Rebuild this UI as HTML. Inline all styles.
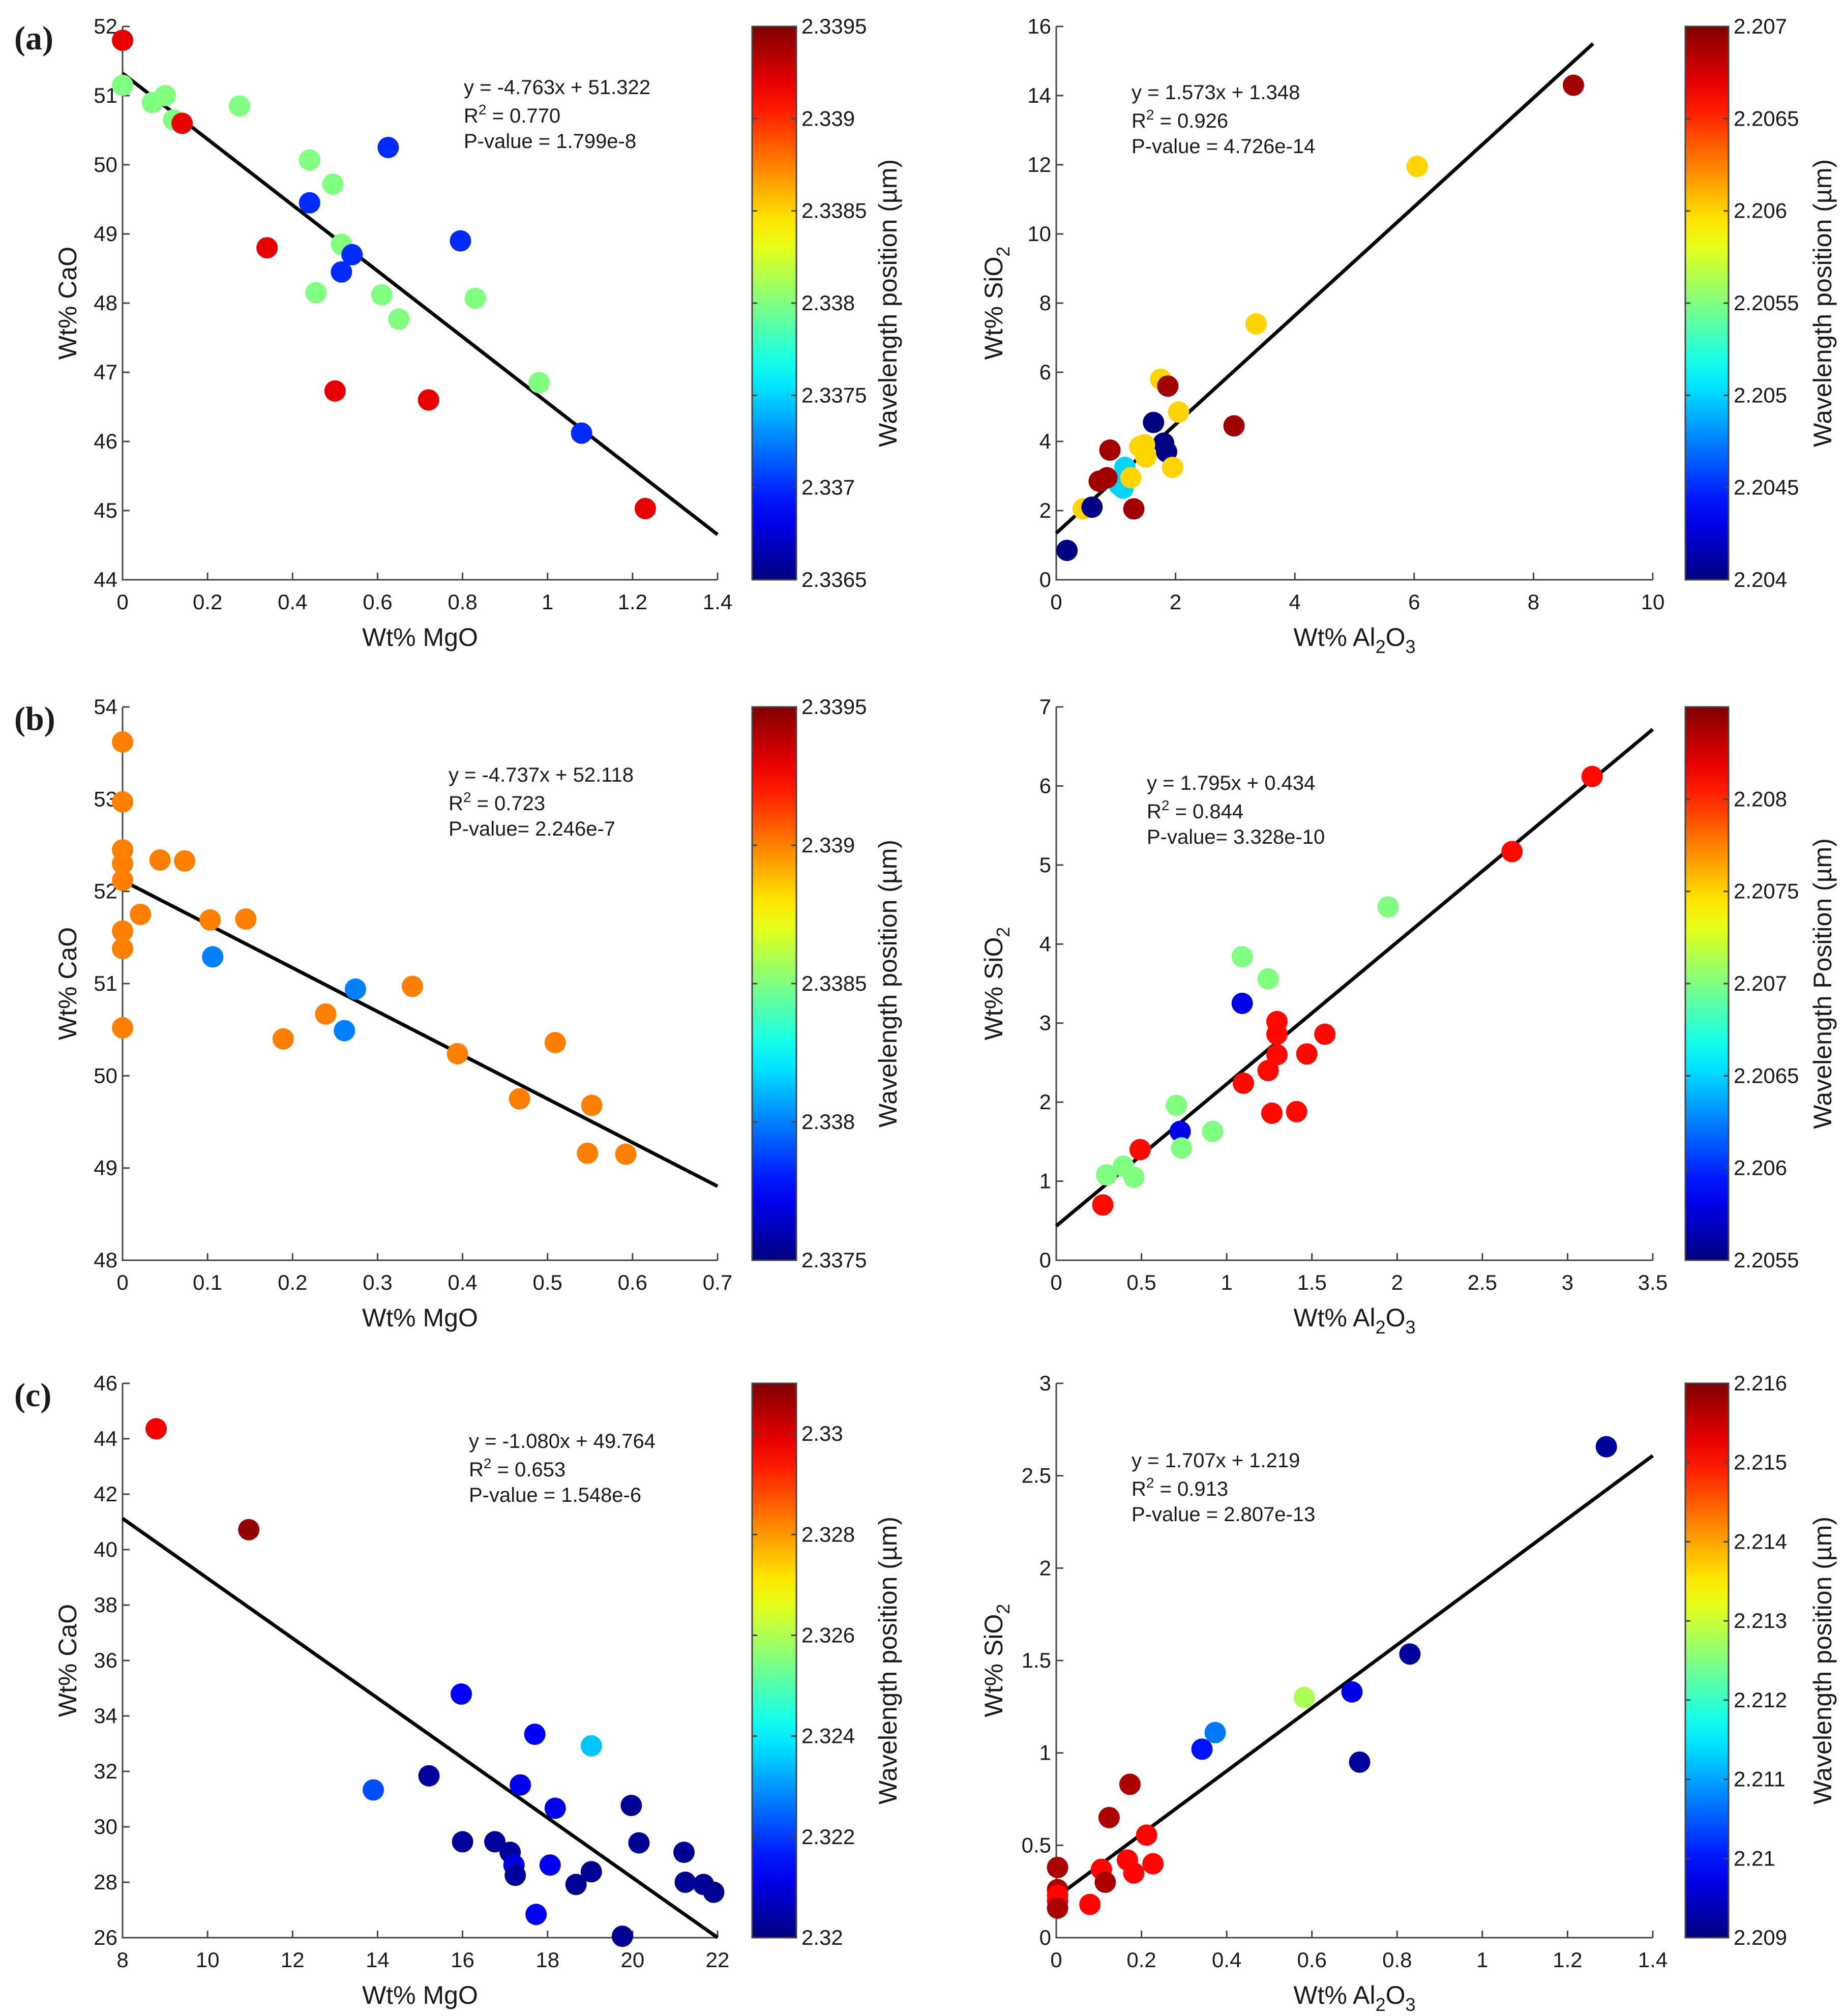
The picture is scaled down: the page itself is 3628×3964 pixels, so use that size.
<!DOCTYPE html>
<html><head><meta charset="utf-8"><style>
html,body{margin:0;padding:0;background:#fff}
svg{display:block}
text{font-family:"Liberation Sans",Arial,sans-serif;fill:#1a1a1a}
</style></head><body>
<svg id="fig" width="3628" height="3964" viewBox="0 0 3628 3964" xmlns="http://www.w3.org/2000/svg">
<defs id="defs"></defs>
</svg>
<script>
// ---- Panel (a) left: MgO vs CaO ----
const aL_x=[0,0,0.1,0.07,0.12,0.14,0.275,0.44,0.625,0.495,0.44,0.795,0.34,0.515,0.54,0.515,0.455,0.61,0.65,0.83,0.98,0.5,0.72,1.08,1.23];
const aL_y=[51.8,51.15,51.0,50.9,50.65,50.6,50.85,50.07,50.25,49.72,49.45,48.9,48.8,48.85,48.7,48.45,48.15,48.12,47.77,48.07,46.85,46.73,46.6,46.12,45.03];
const aL_c=[2.3392,2.3380,2.3380,2.3380,2.3380,2.3392,2.3380,2.3380,2.3370,2.3380,2.3370,2.3370,2.3392,2.3380,2.3370,2.3370,2.3380,2.3380,2.3380,2.3380,2.3380,2.3392,2.3392,2.3370,2.3392];
const aL_xt=[0,0.2,0.4,0.6,0.8,1,1.2,1.4];
const aL_yt=[44,45,46,47,48,49,50,51,52];
const aL_ct=[2.3365,2.337,2.3375,2.338,2.3385,2.339,2.3395];
const aL_fit=[-4.763,51.322];
// ---- Panel (a) right: Al2O3 vs SiO2 ----
const aR_x=[8.67,6.05,3.35,1.75,1.87,2.05,2.98,1.63,1.8,1.85,1.4,1.48,1.5,0.9,1.95,1.15,1.05,1.12,1.25,0.85,0.72,0.45,0.6,1.3,0.18];
const aR_y=[14.3,11.95,7.4,5.8,5.6,4.85,4.45,4.55,3.95,3.7,3.85,3.9,3.55,3.75,3.25,3.25,2.75,2.65,2.95,2.95,2.85,2.05,2.1,2.05,0.85];
const aR_c=[2.2069,2.2060,2.2060,2.2060,2.2069,2.2060,2.2069,2.2040,2.2040,2.2040,2.2060,2.2060,2.2060,2.2069,2.2060,2.2050,2.2050,2.2050,2.2060,2.2069,2.2069,2.2060,2.2040,2.2069,2.2040];
const aR_xt=[0,2,4,6,8,10];
const aR_yt=[0,2,4,6,8,10,12,14,16];
const aR_ct=[2.204,2.2045,2.205,2.2055,2.206,2.2065,2.207];
const aR_fit=[1.573,1.348];
// ---- Panel (b) left ----
const bL_x=[0,0,0,0,0,0,0,0,0.021,0.044,0.073,0.103,0.145,0.106,0.189,0.239,0.261,0.274,0.341,0.394,0.467,0.509,0.552,0.547,0.592];
const bL_y=[53.62,52.97,52.45,52.3,52.12,51.57,51.38,50.52,51.75,52.34,52.33,51.69,51.7,51.29,50.4,50.67,50.49,50.94,50.97,50.24,49.75,50.36,49.68,49.16,49.15];
const bL_c=[2.339,2.339,2.339,2.339,2.339,2.339,2.339,2.339,2.339,2.339,2.339,2.339,2.339,2.3380,2.339,2.339,2.3380,2.3380,2.339,2.339,2.339,2.339,2.339,2.339,2.339];
const bL_xt=[0,0.1,0.2,0.3,0.4,0.5,0.6,0.7];
const bL_yt=[48,49,50,51,52,53,54];
const bL_ct=[2.3375,2.338,2.3385,2.339,2.3395];
const bL_fit=[-4.737,52.118];
// ---- Panel (b) right ----
const bR_x=[3.144,2.674,1.947,1.091,1.243,1.091,1.295,1.295,1.576,1.295,1.47,1.243,1.098,1.265,1.41,0.705,0.917,0.727,0.735,0.492,0.394,0.455,0.295,0.273];
const bR_y=[6.12,5.17,4.47,3.84,3.56,3.25,3.02,2.86,2.86,2.6,2.61,2.40,2.24,1.86,1.88,1.96,1.63,1.63,1.42,1.40,1.19,1.05,1.08,0.70];
const bR_c=[2.2081,2.2081,2.2070,2.2070,2.2070,2.2058,2.2081,2.2081,2.2081,2.2081,2.2081,2.2081,2.2081,2.2081,2.2081,2.2070,2.2070,2.2058,2.2070,2.2081,2.2070,2.2070,2.2070,2.2081];
const bR_xt=[0,0.5,1,1.5,2,2.5,3,3.5];
const bR_yt=[0,1,2,3,4,5,6,7];
const bR_ct=[2.2055,2.206,2.2065,2.207,2.2075,2.208];
const bR_fit=[1.795,0.434];
// ---- Panel (c) left ----
const cL_x=[8.79,10.97,15.97,19.03,17.7,13.9,15.21,17.36,18.18,19.97,16.0,16.76,17.12,17.21,18.06,20.15,21.21,19.03,18.67,17.24,21.24,21.67,21.91,17.73,19.76];
const cL_y=[44.36,40.72,34.79,32.92,33.34,31.33,31.84,31.51,30.67,30.77,29.46,29.46,29.08,28.62,28.62,29.42,29.08,28.38,27.92,28.25,28.0,27.92,27.64,26.84,26.05];
const cL_c=[2.3297,2.3308,2.3213,2.3235,2.3213,2.3222,2.3203,2.3212,2.3212,2.3202,2.3203,2.3203,2.3203,2.3210,2.3212,2.3202,2.3202,2.3202,2.3202,2.3203,2.3202,2.3202,2.3202,2.3212,2.3202];
const cL_xt=[8,10,12,14,16,18,20,22];
const cL_yt=[26,28,30,32,34,36,38,40,42,44,46];
const cL_ct=[2.32,2.322,2.324,2.326,2.328,2.33];
const cL_fit=[-1.080,49.764];
// ---- Panel (c) right ----
const cR_x=[1.291,0.83,0.694,0.712,0.582,0.373,0.342,0.173,0.124,0.212,0.167,0.182,0.227,0.106,0.115,0.079,0.003,0.003,0.003,0.003,0.003];
const cR_y=[2.657,1.535,1.33,0.95,1.30,1.11,1.02,0.83,0.65,0.555,0.42,0.35,0.40,0.37,0.30,0.18,0.38,0.26,0.23,0.20,0.16];
const cR_c=[2.2092,2.2092,2.2097,2.2092,2.2128,2.2107,2.2100,2.2157,2.2157,2.2151,2.2151,2.2151,2.2151,2.2151,2.2157,2.2151,2.2157,2.2157,2.2151,2.2151,2.2157];
const cR_xt=[0,0.2,0.4,0.6,0.8,1,1.2,1.4];
const cR_yt=[0,0.5,1,1.5,2,2.5,3];
const cR_ct=[2.209,2.21,2.211,2.212,2.213,2.214,2.215,2.216];
const cR_fit=[1.707,0.219];

const NS="http://www.w3.org/2000/svg";
const svg=document.getElementById('fig');
const defs=document.getElementById('defs');
function mk(tag,attrs,parent){const e=document.createElementNS(NS,tag);for(const k in attrs)e.setAttribute(k,attrs[k]);(parent||svg).appendChild(e);return e;}
function jet(t){t=Math.max(0,Math.min(1,t));
 const f=(x)=>Math.max(0,Math.min(1,x));
 const r=f(Math.min(4*t-1.5,-4*t+4.5)),g=f(Math.min(4*t-0.5,-4*t+3.5)),b=f(Math.min(4*t+0.5,-4*t+2.5));
 return `rgb(${Math.round(r*255)},${Math.round(g*255)},${Math.round(b*255)})`;}
function fmt(v){return String(+v.toFixed(4));}

const rows=[[52,1140],[1390,2478],[2720,3810]];
const cols=[{px:[241,1411],cb:[1479,1566],yt:132,cbl:1745},{px:[2077,3250],cb:[3314,3399],yt:1953,cbl:3583}];

const panels=[
 {id:'a-left',r:0,c:0,x:aL_x,y:aL_y,col:aL_c,xt:aL_xt,yt:aL_yt,ct:aL_ct,xd:[0,1.4],yd:[44,52],cd:[2.3365,2.3395],fit:aL_fit,xl:'Wt% MgO',yl:'Wt% CaO',cl:'Wavelength position (µm)',ann:['y = -4.763x + 51.322','0.770','P-value = 1.799e-8'],ax:912,ay:185,label:'(a)'},
 {id:'a-right',r:0,c:1,x:aR_x,y:aR_y,col:aR_c,xt:aR_xt,yt:aR_yt,ct:aR_ct,xd:[0,10],yd:[0,16],cd:[2.204,2.207],fit:aR_fit,fitx:[0,9],xl:'Al2O3',yl:'SiO2',cl:'Wavelength position (µm)',ann:['y = 1.573x + 1.348','0.926','P-value = 4.726e-14'],ax:2225,ay:195},
 {id:'b-left',r:1,c:0,x:bL_x,y:bL_y,col:bL_c,xt:bL_xt,yt:bL_yt,ct:bL_ct,xd:[0,0.7],yd:[48,54],cd:[2.3375,2.3395],fit:bL_fit,xl:'Wt% MgO',yl:'Wt% CaO',cl:'Wavelength position (µm)',ann:['y = -4.737x + 52.118','0.723','P-value= 2.246e-7'],ax:882,ay:1537,label:'(b)'},
 {id:'b-right',r:1,c:1,x:bR_x,y:bR_y,col:bR_c,xt:bR_xt,yt:bR_yt,ct:bR_ct,xd:[0,3.5],yd:[0,7],cd:[2.2055,2.2085],fit:bR_fit,xl:'Al2O3',yl:'SiO2',cl:'Wavelength Position (µm)',ann:['y = 1.795x + 0.434','0.844','P-value= 3.328e-10'],ax:2255,ay:1553},
 {id:'c-left',r:2,c:0,x:cL_x,y:cL_y,col:cL_c,xt:cL_xt,yt:cL_yt,ct:cL_ct,xd:[8,22],yd:[26,46],cd:[2.32,2.331],fit:cL_fit,xl:'Wt% MgO',yl:'Wt% CaO',cl:'Wavelength position (µm)',ann:['y = -1.080x + 49.764','0.653','P-value = 1.548e-6'],ax:922,ay:2847,label:'(c)'},
 {id:'c-right',r:2,c:1,x:cR_x,y:cR_y,col:cR_c,xt:cR_xt,yt:cR_yt,ct:cR_ct,xd:[0,1.4],yd:[0,3],cd:[2.209,2.216],fit:cR_fit,xl:'Al2O3',yl:'SiO2',cl:'Wavelength position (µm)',ann:['y = 1.707x + 1.219','0.913','P-value = 2.807e-13'],ax:2225,ay:2885}
];

panels.forEach((p,pi)=>{
 const [x0,x1]=cols[p.c].px,[y0,y1]=rows[p.r];
 const sx=v=>x0+(v-p.xd[0])/(p.xd[1]-p.xd[0])*(x1-x0);
 const sy=v=>y1-(v-p.yd[0])/(p.yd[1]-p.yd[0])*(y1-y0);
 const g=mk('g',{});
 
 
 const ax=mk('path',{d:`M${x0},${y0}L${x0},${y1}L${x1},${y1}`,fill:'none',stroke:'#444','stroke-width':3},g);
 
 
 p.xt.forEach(t=>{const X=sx(t);
  mk('line',{x1:X,x2:X,y1:y1,y2:y1-14,stroke:'#444','stroke-width':3},g);
  const tx=mk('text',{x:X,y:y1+58,'font-size':42,'text-anchor':'middle'},g);tx.textContent=fmt(t);
  
  });
 p.yt.forEach(t=>{const Y=sy(t);
  mk('line',{x1:x0,x2:x0+14,y1:Y,y2:Y,stroke:'#444','stroke-width':3},g);
  const tx=mk('text',{x:x0-10,y:Y+14,'font-size':42,'text-anchor':'end'},g);tx.textContent=fmt(t);
  
  });
 const fx=p.fitx||p.xd;
 const ln=mk('line',{x1:sx(fx[0]),y1:sy(p.fit[0]*fx[0]+p.fit[1]),x2:sx(fx[1]),y2:sy(p.fit[0]*fx[1]+p.fit[1]),stroke:'#000','stroke-width':7},g);
 
 
 p.x.forEach((v,i)=>{const c=mk('circle',{cx:sx(v),cy:sy(p.y[i]),r:21,fill:jet((p.col[i]-p.cd[0])/(p.cd[1]-p.cd[0]))},g);
  
  });
 const an=mk('text',{x:p.ax,y:p.ay,'font-size':40},g);
 
 
 an.innerHTML=`<tspan x="${p.ax}" dy="0">${p.ann[0]}</tspan><tspan x="${p.ax}" dy="56">R</tspan><tspan dy="-16" font-size="28">2</tspan><tspan dy="16"> = ${p.ann[1]}</tspan><tspan x="${p.ax}" dy="50">${p.ann[2]}</tspan>`;
 const cx=(x0+x1)/2, xtY=rows[p.r][1]+130;
 const xt=mk('text',{x:cx,y:xtY,'font-size':50,'text-anchor':'middle'},g);
 
 
 if(p.xl==='Al2O3') xt.innerHTML='Wt% Al<tspan font-size="36" dy="14">2</tspan><tspan dy="-14">O</tspan><tspan font-size="36" dy="14">3</tspan>';
 else xt.textContent=p.xl;
 const ytx=cols[p.c].yt, cy=(y0+y1)/2;
 const yt=mk('text',{x:0,y:0,'font-size':50,'text-anchor':'middle',transform:`translate(${ytx+18},${cy}) rotate(-90)`},g);
 
 
 if(p.yl==='SiO2') yt.innerHTML='Wt% SiO<tspan font-size="36" dy="14">2</tspan>';
 else yt.textContent=p.yl;
 const [c0,c1]=cols[p.c].cb;
 const gid='grad'+pi;
 const lg=mk('linearGradient',{id:gid,x1:0,y1:1,x2:0,y2:0},defs);
 for(let k=0;k<=20;k++){mk('stop',{offset:k/20,'stop-color':jet(k/20)},lg);}
 const cb=mk('rect',{x:c0,y:y0,width:c1-c0,height:y1-y0,fill:`url(#${gid})`,stroke:'#444','stroke-width':3},g);
 
 
 p.ct.forEach(t=>{const Y=y1-(t-p.cd[0])/(p.cd[1]-p.cd[0])*(y1-y0);
  mk('line',{x1:c0,x2:c0+10,y1:Y,y2:Y,stroke:'#444','stroke-width':3},g);
  mk('line',{x1:c1-10,x2:c1,y1:Y,y2:Y,stroke:'#444','stroke-width':3},g);
  const tx=mk('text',{x:c1+10,y:Y+14,'font-size':42},g);tx.textContent=fmt(t);
  
  });
 const cl=mk('text',{x:0,y:0,'font-size':50,'text-anchor':'middle',transform:`translate(${cols[p.c].cbl+18},${cy}) rotate(-90)`},g);
 cl.textContent=p.cl;
 
 
 if(p.label){const pl=mk('text',{x:28,y:y0+45,'font-size':66,'font-weight':'bold',style:'font-family:"Liberation Serif",serif'},g);
  pl.textContent=p.label;
  
  }
});
</script>
</body></html>
